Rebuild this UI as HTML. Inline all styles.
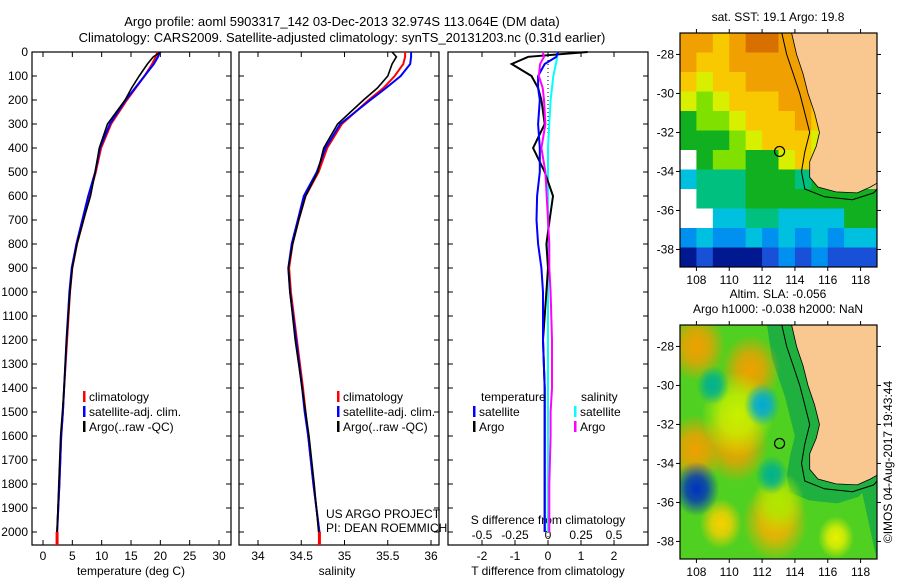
<!DOCTYPE html>
<html><head><meta charset="utf-8"><style>
body{margin:0;background:#fff;}
svg{display:block;font-family:"Liberation Sans",sans-serif;}
</style></head><body>
<svg id="s" width="900" height="580" xmlns="http://www.w3.org/2000/svg">
<defs><clipPath id="clip2"><rect x="680" y="325" width="197" height="234"/></clipPath></defs>
<g font-size="13" text-anchor="middle">
<text x="342" y="26">Argo profile: aoml 5903317_142 03-Dec-2013 32.974S 113.064E (DM data)</text>
<text x="342" y="42">Climatology: CARS2009. Satellite-adjusted climatology: synTS_20131203.nc (0.31d earlier)</text>
</g>
<g id="p1"></g>
<g id="p2"></g>
<g id="p3"></g>
<g id="m1"></g>
<g id="m2"></g>
<text x="892" y="462" font-size="12" text-anchor="middle" transform="rotate(-90 892 462)">©IMOS 04-Aug-2017 19:43:44</text>
</svg>
<script>
// ---- data ----
const depths=[0,20,50,100,150,200,300,400,500,600,700,800,900,1000,1200,1400,1500,1600,1800,2000];
const tempClim=[19.5,19.2,18.6,17.3,15.8,14.3,11.6,9.9,9.0,7.9,6.9,5.8,5.0,4.6,4.1,3.6,3.4,3.1,2.8,2.4];
const tempSat=[19.9,19.6,18.9,17.3,15.7,14.1,11.4,9.7,8.9,7.7,6.7,5.7,4.9,4.5,4.0,3.6,3.4,3.1,2.8,2.4];
const tempArgo=[20.1,18.8,17.8,16.4,15.1,14.0,11.0,9.6,8.9,8.1,6.9,5.8,5.0,4.6,4.0,3.6,3.3,3.0,2.7,2.4];
const salClim=[35.70,35.70,35.68,35.58,35.45,35.28,34.97,34.80,34.70,34.55,34.47,34.40,34.36,34.38,34.45,34.52,34.55,34.58,34.64,34.71];
const salSat=[35.77,35.77,35.76,35.65,35.48,35.30,34.95,34.78,34.68,34.53,34.46,34.39,34.35,34.37,34.44,34.51,34.54,34.58,34.64,34.71];
const salArgo=[35.55,35.60,35.55,35.50,35.38,35.22,34.92,34.76,34.69,34.55,34.47,34.40,34.35,34.37,34.43,34.51,34.55,34.59,34.65,34.70];
const dTempSat=[0.3,0.25,-0.1,-0.3,-0.3,-0.25,-0.3,-0.25,-0.25,-0.33,-0.35,-0.3,-0.2,-0.15,-0.15,-0.1,-0.1,-0.1,-0.1,-0.1];
const dTempArgo=[1.2,-0.6,-1.1,-0.5,-0.3,-0.2,-0.1,-0.45,-0.1,0.15,0.05,-0.05,0.0,-0.05,-0.15,-0.1,-0.1,-0.1,-0.1,-0.1];
const dSalSat=[0.07,0.07,0.06,0.04,0.03,0.02,0.01,0.0,0.0,0.0,0.0,0.0,0.0,0.0,0.0,0.0,0.0,0.0,0.0,0.0];
const dSalArgo=[-0.04,-0.03,-0.06,-0.07,-0.04,-0.03,-0.02,-0.05,-0.02,-0.01,0.0,0.01,0.01,0.02,0.03,0.03,0.02,0.02,0.01,0.01];
const depthTicks=[0,100,200,300,400,500,600,700,800,900,1000,1100,1200,1300,1400,1500,1600,1700,1800,1900,2000];
const tempTicks=[0,5,10,15,20,25,30];
const salTicks=[34,34.5,35,35.5,36];
const tdTicks=[-2,-1,0,1,2];
const sdTicks=[-0.5,-0.25,0,0.25,0.5];
const latTicks=[-28,-30,-32,-34,-36,-38];
const lonTicks=[108,110,112,114,116,118];
const argoLon=113.064, argoLat=-32.974;
const sstGrid=["OOyOooOOLLLL","OyyOOOOOOLLL","yYyyOOOOyLLL","YgYyyyOOyLLL","GggYyyyOyLLL","GGGgYyyyYLLL","wGggGGYyYLLL","ctttGGGtGgLL","wtttGGGGGGGG","wwccttccccGG","bcbbcbcbcbcc","nBnnnBbBbBBB"];
const slaBlobs=[[108,-28,1.8,'#f0a000'],[111.3,-29.2,1.8,'#f0a000'],[107.9,-33.3,1.8,'#f0a000'],[110.4,-33,2.0,'#f0a000'],[112.8,-37,2.0,'#f8b000'],[109.5,-37.1,1.3,'#f8d000'],[116.5,-37.8,1.1,'#e8f000'],[110.5,-31.5,2.2,'#c8f000'],[113,-36,1.6,'#b0e800'],[112,-31,1.1,'#00a8d8'],[108,-35.3,1.4,'#0030c0'],[112.6,-34.6,1.0,'#00b090'],[109,-30,1.0,'#00b090']];

const NS='http://www.w3.org/2000/svg';
function el(p,t,a){const e=document.createElementNS(NS,t);for(const k in a)e.setAttribute(k,a[k]);p.appendChild(e);return e;}
const Y0=52,Y1=532,YB=545,YT=52;
const dy=d=>Y0+(Y1-Y0)*d/2000;

function panel(g,x0,x1,xs,ticks,fmt,showY){
  const f=el(g,'rect',{x:x0,y:YT,width:x1-x0,height:YB-YT,fill:'none',stroke:'#000','stroke-width':1.2});
  
  
  depthTicks.forEach(d=>{
    el(g,'line',{x1:x0,x2:x0+5,y1:dy(d),y2:dy(d),stroke:'#000'});
    el(g,'line',{x1:x1,x2:x1-5,y1:dy(d),y2:dy(d),stroke:'#000'});
    if(showY){const t=el(g,'text',{x:x0-4,y:dy(d)+4,'font-size':12,'text-anchor':'end'});t.textContent=d;
      
      }
  });
  ticks.forEach(v=>{
    el(g,'line',{x1:xs(v),x2:xs(v),y1:YB,y2:YB-5,stroke:'#000'});
    el(g,'line',{x1:xs(v),x2:xs(v),y1:YT,y2:YT+5,stroke:'#000'});
    const t=el(g,'text',{x:xs(v),y:YB+15,'font-size':12,'text-anchor':'middle'});t.textContent=fmt(v);
    
    
  });
}
function line(g,xs,vals,col,name,w){
  const pts=depths.map((d,i)=>xs(vals[i]).toFixed(1)+','+dy(d).toFixed(1)).join(' ');
  const p=el(g,'polyline',{points:pts,fill:'none',stroke:col,'stroke-width':w||2});
  
  
}
function legend(g,x,y,items){
  items.forEach((it,i)=>{
    el(g,'rect',{x:x,y:y+i*15-10,width:2.5,height:11,fill:it[1]});
    const t=el(g,'text',{x:x+6,y:y+i*15,'font-size':12});t.textContent=it[0];
    
    
  });
}
const p1=document.getElementById('p1');
const tx=v=>43+v*(219-43)/30;
panel(p1,32,231,tx,tempTicks,v=>v,true);
line(p1,tx,tempClim,'#f00','temperature-climatology-line');
line(p1,tx,tempSat,'#00f','temperature-satellite-line');
line(p1,tx,tempArgo,'#000','temperature-argo-line',1.6);
el(p1,'rect',{x:tx(tempClim[19])-1.5,y:dy(2000),width:3,height:YB-dy(2000),fill:'#f00'});
legend(p1,83,401,[['climatology','#f00'],['satellite-adj. clim.','#00f'],['Argo(..raw -QC)','#000']]);
let t=el(p1,'text',{x:131,y:575,'font-size':12,'text-anchor':'middle'});t.textContent='temperature (deg C)';


const p2=document.getElementById('p2');
const sx=v=>258+(v-34)*(431-258)/2;
panel(p2,239,439,sx,salTicks,v=>v,false);
line(p2,sx,salClim,'#f00','salinity-climatology-line');
line(p2,sx,salSat,'#00f','salinity-satellite-line');
line(p2,sx,salArgo,'#000','salinity-argo-line',1.6);
el(p2,'rect',{x:sx(salClim[19])-1.5,y:dy(2000),width:3,height:YB-dy(2000),fill:'#f00'});
legend(p2,337,401,[['climatology','#f00'],['satellite-adj. clim.','#00f'],['Argo(..raw -QC)','#000']]);
t=el(p2,'text',{x:337,y:575,'font-size':12,'text-anchor':'middle'});t.textContent='salinity';


t=el(p2,'text',{x:326,y:518,'font-size':12});t.textContent='US ARGO PROJECT';


t=el(p2,'text',{x:326,y:532,'font-size':12});t.textContent='PI: DEAN ROEMMICH';


const p3=document.getElementById('p3');
const dx=v=>548+v*33;
const dsx=v=>548+v*132;
panel(p3,448,648,dx,tdTicks,v=>v,false);
el(p3,'line',{x1:548,x2:548,y1:YT,y2:YB,stroke:'#000','stroke-dasharray':'1,3'});
sdTicks.forEach(v=>{t=el(p3,'text',{x:dsx(v),y:539,'font-size':12,'text-anchor':'middle'});t.textContent=v;
  
  });
t=el(p3,'text',{x:548,y:524,'font-size':12,'text-anchor':'middle'});t.textContent='S difference from climatology';


t=el(p3,'text',{x:548,y:575,'font-size':12,'text-anchor':'middle'});t.textContent='T difference from climatology';


line(p3,dsx,dSalSat,'#0ff','salinity-diff-satellite-line');
line(p3,dx,dTempArgo,'#000','temperature-diff-argo-line');
line(p3,dx,dTempSat,'#00f','temperature-diff-satellite-line');
line(p3,dsx,dSalArgo,'#f0f','salinity-diff-argo-line');
legend(p3,473,401,[['','#fff'],['satellite','#00f'],['Argo','#000']]);
t=el(p3,'text',{x:481,y:401,'font-size':12});t.textContent='temperature';


legend(p3,574,401,[['','#fff'],['satellite','#0ff'],['Argo','#f0f']]);
t=el(p3,'text',{x:581,y:401,'font-size':12});t.textContent='salinity';



const MX0=680,MX1=877;
const lonX=l=>MX0+(l-107)*(MX1-MX0)/12;
const coast=[[113.8,-26.9],[114.1,-28],[114.5,-29],[114.8,-30],[115.2,-31],[115.5,-32],[115.3,-32.7],[114.9,-33.5],[114.9,-34.3],[115.4,-34.8],[116.5,-35.05],[117.8,-35.1],[118.6,-34.8],[119,-34.6],[119,-26.9]];
const iso=[[113.2,-26.9],[113.5,-28],[113.9,-29],[114.3,-30],[114.6,-31],[114.9,-32],[114.6,-33],[114.4,-34],[114.6,-34.9],[115.8,-35.3],[117.5,-35.45],[118.8,-35.1],[119,-34.9]];
function map(g,Y0m,Y1m,title,drawBg){
  const latY=l=>Y0m+(-26.9-l)*(Y1m-Y0m)/12;
  const P=a=>a.map(c=>lonX(c[0]).toFixed(1)+','+latY(c[1]).toFixed(1)).join(' ');
  drawBg(latY,P);
  const land=el(g,'polygon',{points:P(coast),fill:'#f8c890'});
  
  
  el(g,'polyline',{points:P(iso),fill:'none',stroke:'#000','stroke-width':1});
  el(g,'polyline',{points:P(coast.slice(0,-1)),fill:'none',stroke:'#000','stroke-width':0.8});
  const c=el(g,'circle',{cx:lonX(argoLon),cy:latY(argoLat),r:5,fill:'none',stroke:'#000','stroke-width':1.2});
  
  
  el(g,'rect',{x:MX0,y:Y0m,width:MX1-MX0,height:Y1m-Y0m,fill:'none',stroke:'#000','stroke-width':1.2});
  latTicks.forEach(l=>{
    el(g,'line',{x1:MX0,x2:MX0-4,y1:latY(l),y2:latY(l),stroke:'#000'});
    el(g,'line',{x1:MX1,x2:MX1+4,y1:latY(l),y2:latY(l),stroke:'#000'});
    const tt=el(g,'text',{x:MX0-6,y:latY(l)+4,'font-size':12,'text-anchor':'end'});tt.textContent=l;
    
    
  });
  lonTicks.forEach(l=>{
    el(g,'line',{x1:lonX(l),x2:lonX(l),y1:Y1m,y2:Y1m+4,stroke:'#000'});
    el(g,'line',{x1:lonX(l),x2:lonX(l),y1:Y0m,y2:Y0m-4,stroke:'#000'});
    const tt=el(g,'text',{x:lonX(l),y:Y1m+17,'font-size':12,'text-anchor':'middle'});tt.textContent=l;
    
    
  });
  title.forEach((s,i)=>{const tt=el(g,'text',{x:778,y:Y0m-12-(title.length-1-i)*15,'font-size':12,'text-anchor':'middle'});tt.textContent=s;
    
    });
}
const cols={O:'#f0a000',o:'#d87000',y:'#f8c800',Y:'#d8f000',g:'#80e000',G:'#10b020',t:'#00c080',c:'#00c0e0',b:'#0090f0',B:'#1850d8',n:'#001890',w:'#fff',L:'#f8c890'};
const m1=document.getElementById('m1');
map(m1,33,267,['sat. SST: 19.1  Argo: 19.8'],latY=>{
  sstGrid.forEach((row,r)=>{[...row].forEach((ch,c)=>{
    const x=lonX(107+c),y=latY(-26.9-r);
    const cell=el(m1,'rect',{x:x,y:y,width:lonX(108+c)-x+0.5,height:latY(-27.9-r)-y+0.5,fill:cols[ch]});
    
    
  });});
});
const m2=document.getElementById('m2');
map(m2,325,559,['Altim. SLA: -0.056','Argo h1000: -0.038 h2000: NaN'],(latY,P)=>{
  const defs=el(m2,'defs',{});
  const cg=el(m2,'g',{'clip-path':'url(#clip2)'});
  const bg=el(cg,'rect',{x:MX0,y:325,width:MX1-MX0,height:234,fill:'#50d020'});
  
  
  const shelf=iso.map(c=>[c[0]-0.9,c[1]-0.6]).concat([[119,-39],[119,-26.9]]);
  shelf[0]=[112.3,-26.9];
  el(cg,'polygon',{points:P(shelf),fill:'#20b040'});
  slaBlobs.forEach((b,i)=>{
    const rg=el(defs,'radialGradient',{id:'g'+i});
    el(rg,'stop',{offset:'0','stop-color':b[3]});
    el(rg,'stop',{offset:'0.45','stop-color':b[3],'stop-opacity':0.8});
    el(rg,'stop',{offset:'1','stop-color':b[3],'stop-opacity':0});
    const e=el(cg,'ellipse',{cx:lonX(b[0]),cy:latY(b[1]),rx:b[2]*16.4,ry:b[2]*19.5,fill:'url(#g'+i+')'});
    
    
  });
});
</script>
</body></html>
